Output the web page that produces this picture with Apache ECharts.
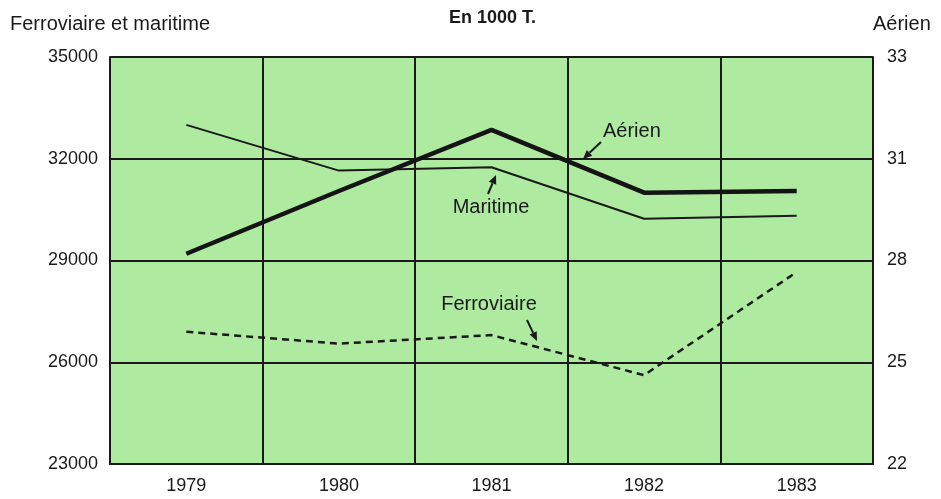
<!DOCTYPE html>
<html><head><meta charset="utf-8">
<script src="https://cdn.jsdelivr.net/npm/echarts@6/dist/echarts.min.js"></script>
<style>html,body{margin:0;padding:0;background:#fff}#c{width:941px;height:499px}</style>
</head><body><div id="c"></div>
<script>
const years = ['1979', '1980', '1981', '1982', '1983'];
const maritime = [33000, 31650, 31750, 30230, 30320];
const ferroviaire = [26900, 26550, 26800, 25620, 28660];
const aerien = [28.2, 30.05, 31.85, 30.0, 30.05];
const leftAxisRange = [23000, 35000, 3000];
const rightTickValues = [22, 25, 28, 31, 34];
const rightTickLabels = ['22', '25', '28', '31', '33'];

const INK = '#1a1a1a';
const FONT = '"Liberation Sans", Arial, Helvetica, sans-serif';
const chart = echarts.init(document.getElementById('c'), null, {renderer: 'canvas'});

function arrow(tail, head) {
  const dx = head[0] - tail[0], dy = head[1] - tail[1];
  const len = Math.sqrt(dx * dx + dy * dy), ux = dx / len, uy = dy / len;
  const hl = 9, hw = 4;
  const bx = head[0] - ux * hl, by = head[1] - uy * hl;
  return [
    {type: 'line', shape: {x1: tail[0], y1: tail[1], x2: bx, y2: by}, style: {stroke: INK, lineWidth: 2}, z: 100},
    {type: 'polygon', shape: {points: [head, [bx - uy * hw, by + ux * hw], [bx + uy * hw, by - ux * hw]]}, style: {fill: INK}, z: 100}
  ];
}
function label(text, x, y, align) {
  return {type: 'text', x: x, y: y, z: 100,
    style: {text: text, fill: INK, fontSize: 20, fontFamily: FONT, align: align || 'center', verticalAlign: 'middle'}};
}

const option = {
  animation: false,
  backgroundColor: '#ffffff',
  title: {text: 'En 1000 T.', left: 444, top: 4,
    textStyle: {fontSize: 18, fontWeight: 'bold', color: INK, fontFamily: FONT}},
  grid: {left: 110, right: 68, top: 57, bottom: 35, show: true, backgroundColor: '#aeeaa0', borderWidth: 0},
  xAxis: {
    type: 'category', data: years, boundaryGap: true,
    axisLine: {show: true, lineStyle: {color: INK, width: 2}},
    axisTick: {show: false},
    axisLabel: {fontSize: 18, color: INK, margin: 13, fontFamily: FONT},
    splitLine: {show: true, lineStyle: {color: INK, width: 2}}
  },
  yAxis: [
    {
      type: 'value', min: leftAxisRange[0], max: leftAxisRange[1], interval: leftAxisRange[2],
      name: 'Ferroviaire et maritime', nameLocation: 'end', nameGap: 23,
      nameTextStyle: {fontSize: 20, color: INK, fontFamily: FONT, align: 'center'},
      axisLine: {show: true, lineStyle: {color: INK, width: 2}},
      axisTick: {show: false},
      axisLabel: {fontSize: 18, color: INK, margin: 12, fontFamily: FONT,
        formatter: function (v) { return String(v); }},
      splitLine: {show: true, lineStyle: {color: INK, width: 2}}
    },
    {
      type: 'value', position: 'right', min: rightTickValues[0], max: rightTickValues[rightTickValues.length - 1], interval: 3,
      name: 'Aérien', nameLocation: 'end', nameGap: 23,
      nameTextStyle: {fontSize: 20, color: INK, fontFamily: FONT, align: 'left'},
      axisLine: {show: true, lineStyle: {color: INK, width: 2}},
      axisTick: {show: false},
      axisLabel: {fontSize: 18, color: INK, margin: 14, fontFamily: FONT,
        formatter: function (v) { const i = rightTickValues.indexOf(v); return i >= 0 ? rightTickLabels[i] : ''; }},
      splitLine: {show: false}
    }
  ],
  series: [
    {name: 'Maritime', type: 'line', data: maritime, yAxisIndex: 0, symbol: 'none',
      lineStyle: {color: INK, width: 2}, z: 3},
    {name: 'Ferroviaire', type: 'line', data: ferroviaire, yAxisIndex: 0, symbol: 'none',
      lineStyle: {color: INK, width: 2.5, type: [7, 5]}, z: 3},
    {name: 'Aérien', type: 'line', data: aerien, yAxisIndex: 1, symbol: 'none',
      lineStyle: {color: '#141414', width: 4.5}, z: 4}
  ],
  graphic: [].concat(
    [label('Aérien', 603, 131, 'left')], arrow([601, 142], [583, 159]),
    [label('Maritime', 491, 207)], arrow([488, 194], [496, 175]),
    [label('Ferroviaire', 489, 304)], arrow([527, 320], [537, 341])
  )
};
chart.setOption(option);
</script></body></html>
